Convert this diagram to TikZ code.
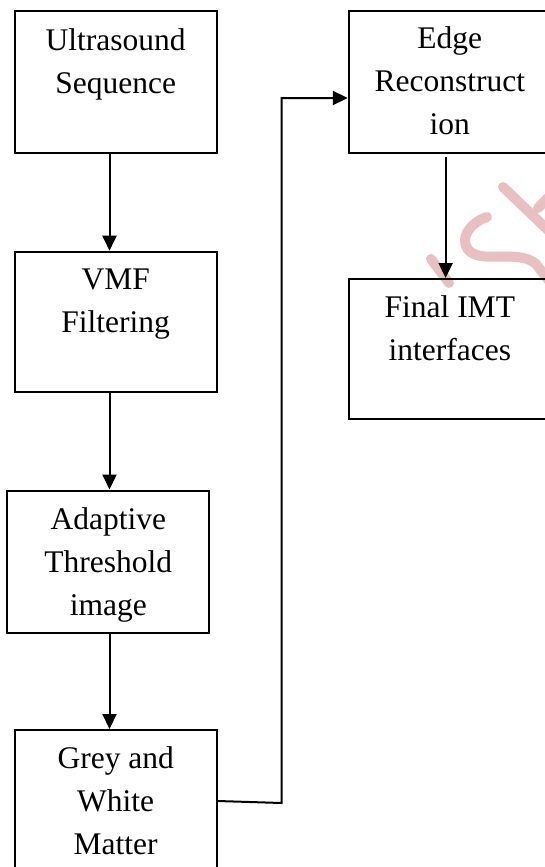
\documentclass[tikz,border=0pt]{standalone}
\usepackage{fontspec}
\setmainfont{Liberation Serif}
\usetikzlibrary{arrows.meta}
\definecolor{wm}{RGB}{232,192,193}
\tikzset{
  box/.style={draw, line width=2pt, minimum width=202pt, minimum height=142pt, inner sep=0pt},
  txt/.style={anchor=base, align=center, font=\fontsize{31.5}{43}\selectfont, inner sep=0pt},
  conn/.style={line width=2pt, -{Triangle[length=15pt,width=14pt]}},
  wline/.style={wm, line width=10pt, line cap=round}
}
\begin{document}
\begin{tikzpicture}[x=1pt,y=-1pt]
\useasboundingbox (0,0) rectangle (545,867);
\clip (0,0) rectangle (545,867);
% watermark strokes
\draw[wline] (431,259) -- (449,283);
\draw[wline] (487,217) .. controls (466,224) and (458,244) .. (472,253) .. controls (488,262) and (520,250) .. (536,264) -- (550,282);
\draw[wline] (503,187) -- (550,232);
\draw[wline] (538,208) -- (552,194);
% boxes
\node[box] (us) at (115.7,82) {};
\node[box, minimum height=140pt] (vmf) at (115.7,321.7) {};
\node[box] (at) at (108.3,561.5) {};
\node[box] (gw) at (115.7,801) {};
\node[box] (er) at (449.8,82) {};
\node[box, minimum height=140pt] (fi) at (449.8,349) {};
% texts (anchor = baseline of last line)
\node[txt] (ust) at ([yshift=-83pt]us.north) {Ultrasound\\Sequence};
\node[txt] (vmft) at ([yshift=-82pt]vmf.north) {VMF\\Filtering};
\node[txt] (att) at ([yshift=-125.5pt]at.north) {Adaptive\\Threshold\\image};
\node[txt] (gwt) at ([yshift=-125pt]gw.north) {Grey and\\White\\Matter};
\node[txt] (ert) at ([yshift=-124.5pt]er.north) {Edge\\Reconstruct\\ion};
\node[txt] (fit) at ([yshift=-82.5pt]fi.north) {Final IMT\\interfaces};
% connectors
\coordinate (ax) at (109.5,0);
\draw[conn] (us.south -| ax) -- (vmf.north -| ax);
\draw[conn] (vmf.south -| ax) -- (at.north -| ax);
\draw[conn] (at.south -| ax) -- (gw.north -| ax);
\coordinate (b1) at (281.5,803);
\coordinate (b2) at (281.5,98);
\draw[conn] (gw.east) -- (b1) -- (b2) -- (er.west |- b2);
\coordinate (ex) at (445.6,157);
\draw[conn] (ex) -- (fi.north -| ex);
\end{tikzpicture}
\end{document}
